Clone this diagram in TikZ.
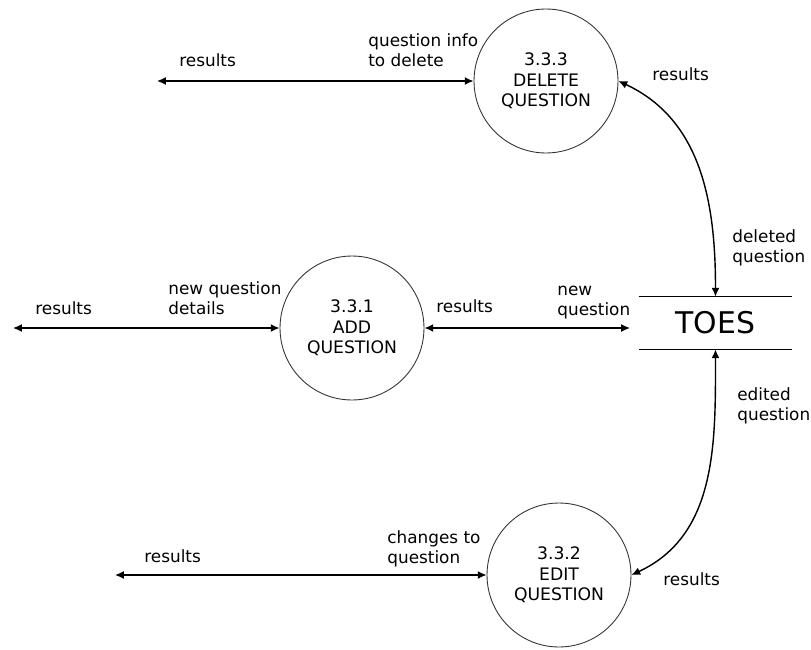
\documentclass[tikz,border=0pt]{standalone}
\usepackage{fontspec}
\setmainfont{DejaVu Sans}
\usetikzlibrary{arrows.meta}

\tikzset{
  proc/.style={circle, draw=black!80, line width=0.5pt, minimum size=2.88cm, inner sep=0pt,
    align=center, font=\fontsize{9.8}{11.7}\selectfont},
  flow/.style={<->, line width=0.8pt},
  lbl/.style={anchor=base west, align=left, inner sep=0pt, font=\fontsize{9.6}{11}\selectfont}
}

\begin{document}
\begin{tikzpicture}[x=0.02cm, y=-0.02cm, >={Latex[length=5pt,width=4.5pt]}]
  \useasboundingbox (0,0) rectangle (811,649);

  % processes
  \node[proc] (del) at (546,81) {3.3.3\\DELETE\\QUESTION};
  \node[proc] (add) at (352,328) {3.3.1\\ADD\\QUESTION};
  \node[proc] (edt) at (559,575) {3.3.2\\EDIT\\QUESTION};

  % data store
  \node[minimum width=3.06cm, minimum height=1.04cm, inner sep=0pt,
    font=\fontsize{17}{20}\selectfont] (toes) at (715.5,323) {TOES};
  \draw[line width=0.8pt] (toes.north west) -- (toes.north east);
  \draw[line width=0.8pt] (toes.south west) -- (toes.south east);

  % free ends
  \coordinate (delres) at (157,81);
  \coordinate (addres) at (13,328);
  \coordinate (edtres) at (115,575);
  \coordinate (toesin) at (630,328);

  % flows
  \draw[flow] (delres) -- (del);
  \draw[flow] (addres) -- (add);
  \draw[flow] (edtres) -- (edt);
  \draw[flow] (add) -- (toesin);
  \draw[flow] (del.east) to[out=-25, in=90] (toes.north);
  \draw[flow] (toes.south) to[out=-90, in=25] (edt.east);

  % labels (base = last line)
  \node[lbl] (l1) at (179,66) {results};
  \node[lbl] (l2) at (368,66) {question info\\to delete};
  \node[lbl] (l3) at (35,314) {results};
  \node[lbl] (l4) at (168,314) {new question\\details};
  \node[lbl] (l5) at (436,312) {results};
  \node[lbl] (l6) at (557,315) {new\\question};
  \node[lbl] (l7) at (144,562) {results};
  \node[lbl] (l8) at (387,563) {changes to\\question};
  \node[lbl] (l9) at (652,80) {results};
  \node[lbl] (l10) at (732,262) {deleted\\question};
  \node[lbl] (l11) at (737,420) {edited\\question};
  \node[lbl] (l12) at (663,585) {results};
\end{tikzpicture}
\end{document}
